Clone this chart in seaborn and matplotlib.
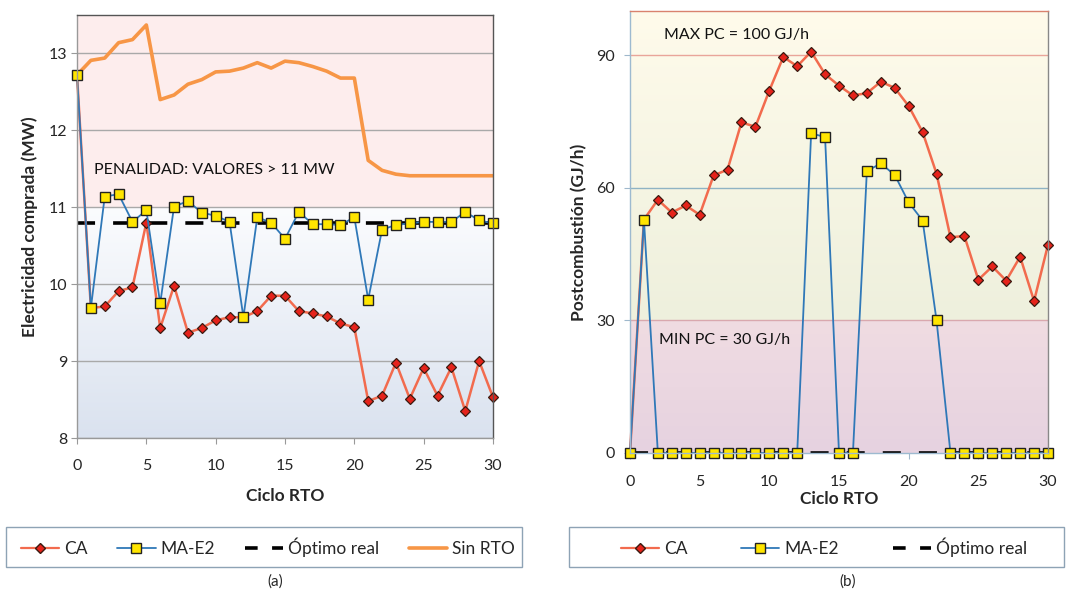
import numpy as np
import pandas as pd
import matplotlib
matplotlib.use("Agg")
import matplotlib.pyplot as plt
from matplotlib.colors import LinearSegmentedColormap
from matplotlib.lines import Line2D
from matplotlib.patches import Rectangle
import seaborn as sns

# ---------------- data ----------------
ciclo = list(range(31))

# (a) Electricidad comprada (MW)
elec_ca = [12.72, 9.69, 9.71, 9.91, 9.96, 10.80, 9.43, 9.98, 9.37, 9.43, 9.53,
           9.57, 9.57, 9.65, 9.85, 9.85, 9.65, 9.62, 9.58, 9.49, 9.44,
           8.48, 8.55, 8.98, 8.51, 8.91, 8.55, 8.92, 8.35, 9.00, 8.53]
elec_ma = [12.72, 9.69, 11.14, 11.17, 10.81, 10.96, 9.75, 11.01, 11.08, 10.93, 10.89,
           10.81, 9.57, 10.87, 10.80, 10.59, 10.94, 10.78, 10.78, 10.77, 10.87,
           9.80, 10.71, 10.77, 10.79, 10.81, 10.81, 10.81, 10.94, 10.83, 10.79]
elec_sin = [12.72, 12.91, 12.94, 13.14, 13.18, 13.37, 12.40, 12.46, 12.60, 12.66, 12.76,
            12.77, 12.81, 12.88, 12.81, 12.90, 12.88, 12.83, 12.77, 12.68, 12.68,
            11.61, 11.48, 11.43, 11.41, 11.41, 11.41, 11.41, 11.41, 11.41, 11.41]
elec_opt = [10.80] * 31

# (b) Postcombustión (GJ/h)
post_ca = [0.0, 52.8, 57.3, 54.4, 56.0, 53.9, 62.8, 64.1, 74.8, 73.8, 82.0,
           89.6, 87.5, 90.8, 85.7, 83.1, 80.9, 81.4, 84.0, 82.6, 78.5,
           72.6, 63.2, 48.8, 49.1, 39.2, 42.2, 39.0, 44.4, 34.4, 47.1]
post_ma = [0.0, 52.8, 0, 0, 0, 0, 0, 0, 0, 0, 0,
           0, 0, 72.3, 71.5, 0, 0, 63.8, 65.5, 62.9, 56.7,
           52.6, 30.0, 0, 0, 0, 0, 0, 0, 0, 0]
post_opt = [0.0] * 31

x_ticks = [0, 5, 10, 15, 20, 25, 30]
elec_yticks = [8, 9, 10, 11, 12, 13]
post_yticks = [0, 30, 60, 90]

# ---------------- style ----------------
sns.set_style("white")
plt.rcParams['font.family'] = ['Lato', 'DejaVu Sans']

C_CA_LINE = "#F26B4E"
C_CA_MARK = "#E5231B"
C_MA_LINE = "#2F78B8"
C_MA_MARK = "#FFE500"
C_SIN = "#F79646"

W, H = 1066, 597
fig = plt.figure(figsize=(10.66, 5.97), dpi=100)
axA = fig.add_axes([77/W, 1-438/H, (493-77)/W, (438-15)/H])
axB = fig.add_axes([630/W, 1-453/H, (1048-630)/W, (453-11)/H])


def vgrad(ax, x0, x1, y0, y1, c_bottom, c_top):
    cmap = LinearSegmentedColormap.from_list("g", [c_bottom, c_top])
    grad = np.linspace(0, 1, 256).reshape(-1, 1)
    ax.imshow(grad, extent=[x0, x1, y0, y1], origin="lower", aspect="auto",
              cmap=cmap, zorder=0, interpolation="bilinear")


def draw_series(ax, y_ca, y_ma, y_opt, y_sin=None):
    df = pd.DataFrame({"x": ciclo, "ca": y_ca, "ma": y_ma, "opt": y_opt})
    if y_sin is not None:
        df["sin"] = y_sin
        sns.lineplot(data=df, x="x", y="sin", ax=ax, color=C_SIN, lw=2.6,
                     zorder=3, label="Sin RTO")
    sns.lineplot(data=df, x="x", y="opt", ax=ax, color="black", lw=2.6,
                 dashes=False, zorder=4, label="Óptimo real")
    sns.lineplot(data=df, x="x", y="ca", ax=ax, color=C_CA_LINE, lw=1.8,
                 marker="D", markersize=5.5, markerfacecolor=C_CA_MARK,
                 markeredgecolor="#3a1a10", markeredgewidth=0.9, zorder=5,
                 label="CA", clip_on=False)
    sns.lineplot(data=df, x="x", y="ma", ax=ax, color=C_MA_LINE, lw=1.3,
                 marker="s", markersize=7.5, markerfacecolor=C_MA_MARK,
                 markeredgecolor="#222222", markeredgewidth=1.0, zorder=6,
                 label="MA-E2", clip_on=False)
    for ln in ax.get_lines():
        if ln.get_label() == "Óptimo real":
            ln.set_dashes([5, 5])
    ax.get_legend().remove()


# ---------------- panel (a) ----------------
axA.set_xlim(0, 30)
axA.set_ylim(8, 13.5)
axA.axhspan(11, 13.5, color="#FDEDED", zorder=0)
vgrad(axA, 0, 30, 8, 11, "#DAE2EF", "#FBFCFE")
for v in elec_yticks:
    axA.axhline(v, color="#A9A9A9", lw=1.0, zorder=1)
draw_series(axA, elec_ca, elec_ma, elec_opt, elec_sin)
axA.set_xticks(x_ticks)
axA.set_yticks(elec_yticks)
axA.tick_params(axis="both", labelsize=11.5, length=4, color="#999999",
                direction="out", left=True, bottom=True, pad=3)
axA.tick_params(axis="x", pad=11)
axA.set_xlabel("Ciclo RTO", fontsize=12.5, fontweight="bold", labelpad=11)
axA.set_ylabel("Electricidad comprada (MW)", fontsize=12.5, fontweight="bold",
               labelpad=8)
axA.text(1.2, 11.48, "PENALIDAD: VALORES > 11 MW", fontsize=11.5,
         color="#111111", va="center", ha="left", zorder=7)
for s in ["left", "bottom"]:
    axA.spines[s].set_color("#999999")
for s in ["top", "right"]:
    axA.spines[s].set_color("#555555")
for s in axA.spines.values():
    s.set_linewidth(1.0)
    s.set_zorder(8)

# ---------------- panel (b) ----------------
axB.set_xlim(0, 30)
axB.set_ylim(0, 100)
vgrad(axB, 0, 30, 30, 100, "#EEF0DD", "#FFFBEB")
vgrad(axB, 0, 30, 0, 30, "#E6D2E0", "#F0DCE2")
axB.axhline(90, color="#E9A59A", lw=1.0, zorder=1)
axB.axhline(60, color="#8FB3C4", lw=1.0, zorder=1)
axB.axhline(30, color="#D9A8AE", lw=1.0, zorder=1)
draw_series(axB, post_ca, post_ma, post_opt)
axB.set_xticks(x_ticks)
axB.set_yticks(post_yticks)
axB.tick_params(axis="both", labelsize=11.5, length=4, color="#9FB8CC",
                direction="out", left=True, bottom=True, pad=7)
axB.tick_params(axis="x", pad=12)
axB.set_xlabel("Ciclo RTO", fontsize=12.5, fontweight="bold", labelpad=1)
axB.set_ylabel("Postcombustión (GJ/h)", fontsize=12.5, fontweight="bold",
               labelpad=6)
axB.text(2.45, 94.6, "MAX PC = 100 GJ/h", fontsize=11.5, color="#111111",
         va="center", ha="left", zorder=7)
axB.text(2.1, 25.6, "MIN PC = 30 GJ/h", fontsize=11.5, color="#111111",
         va="center", ha="left", zorder=7)
axB.spines["left"].set_color("#9DBAD0")
axB.spines["bottom"].set_color("#9DBAD0")
axB.spines["top"].set_color("#D9826E")
axB.spines["right"].set_color("#888888")
for s in axB.spines.values():
    s.set_linewidth(1.0)
    s.set_zorder(8)

# ---------------- legends ----------------
h_ca = Line2D([], [], color=C_CA_LINE, lw=1.6, marker="D", markersize=5,
              markerfacecolor=C_CA_MARK, markeredgecolor="#3a1a10")
h_ma = Line2D([], [], color=C_MA_LINE, lw=1.3, marker="s", markersize=7,
              markerfacecolor=C_MA_MARK, markeredgecolor="#222222")
h_opt = Line2D([], [], color="black", lw=2.6, dashes=[3.5, 4])
h_sin = Line2D([], [], color=C_SIN, lw=2.6)

# legend boxes
for (x0, x1) in [(6, 522), (569, 1064)]:
    fig.patches.append(Rectangle((x0/W, 1-567/H), (x1-x0)/W, 40/H,
                                 transform=fig.transFigure, fill=False,
                                 edgecolor="#8EA3B5", lw=1.0))

legA = fig.legend([h_ca, h_ma, h_opt, h_sin],
                  ["CA", "MA-E2", "Óptimo real", "Sin RTO"],
                  loc="center", bbox_to_anchor=(268/W, 1-547/H),
                  ncol=4, fontsize=12.5, frameon=False,
                  handlelength=2.2, handletextpad=0.3, columnspacing=1.7,
                  borderpad=0.3, borderaxespad=0)

legB = fig.legend([h_ca, h_ma, h_opt], ["CA", "MA-E2", "Óptimo real"],
                  loc="center", bbox_to_anchor=(824/W, 1-547/H),
                  ncol=3, fontsize=12.5, frameon=False,
                  handlelength=2.2, handletextpad=0.3, columnspacing=3.1,
                  borderpad=0.3, borderaxespad=0)

fig.text(275/W, 1-582/H, "(a)", fontsize=11, ha="center", va="center")
fig.text(848/W, 1-582/H, "(b)", fontsize=11, ha="center", va="center")

fig.savefig("out.png", dpi=100)
